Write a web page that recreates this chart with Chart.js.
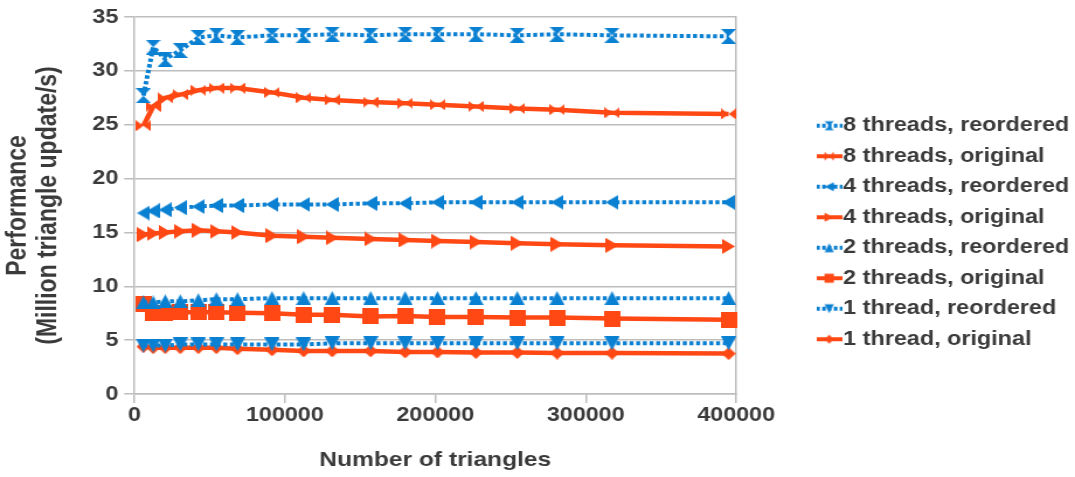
<!DOCTYPE html>
<html>
<head>
    <title>Performance vs number of triangles</title>
    <script src="https://cdn.jsdelivr.net/npm/chart.js"></script>
    <style>
        body { margin: 0; background: #fff; }
    </style>
</head>
<body>
    <!-- the original picture is stretched sideways: draw 920 wide, show 1075 wide -->
    <canvas id="perfChart" width="920" height="477" style="width:1075px;height:477px;display:block"></canvas>
    <script>
        const triangles = [6000, 12500, 20500, 30500, 42500, 54500, 68500, 91500, 112500, 131500,
                           157000, 180000, 201500, 227000, 254500, 281000, 317500, 395000];

        const seriesLabels = ['8 threads, reordered', '8 threads, original', '4 threads, reordered', '4 threads, original',
                              '2 threads, reordered', '2 threads, original', '1 thread, reordered', '1 thread, original'];

        const t8Reordered = [27.7, 32.2, 31.1, 31.9, 33.1, 33.3, 33.1, 33.3, 33.3, 33.4, 33.3, 33.4, 33.4, 33.4, 33.3, 33.4, 33.3, 33.2];
        const t8Original  = [24.9, 26.7, 27.5, 27.8, 28.2, 28.4, 28.4, 28.0, 27.5, 27.3, 27.1, 27.0, 26.85, 26.7, 26.5, 26.4, 26.1, 26.0];
        const t4Reordered = [16.8, 17.0, 17.1, 17.3, 17.4, 17.5, 17.5, 17.6, 17.6, 17.6, 17.7, 17.7, 17.8, 17.8, 17.8, 17.8, 17.8, 17.8];
        const t4Original  = [14.8, 14.9, 15.0, 15.1, 15.2, 15.1, 15.0, 14.7, 14.6, 14.5, 14.4, 14.3, 14.2, 14.1, 14.0, 13.9, 13.8, 13.7];
        const t2Reordered = [8.5, 8.5, 8.6, 8.6, 8.7, 8.8, 8.8, 8.9, 8.9, 8.9, 8.9, 8.9, 8.9, 8.9, 8.9, 8.9, 8.9, 8.9];
        const t2Original  = [8.4, 7.5, 7.5, 7.6, 7.6, 7.6, 7.55, 7.5, 7.35, 7.35, 7.2, 7.25, 7.15, 7.15, 7.1, 7.1, 7.0, 6.9];
        const t1Reordered = [4.5, 4.5, 4.5, 4.6, 4.6, 4.6, 4.6, 4.6, 4.6, 4.7, 4.7, 4.7, 4.7, 4.7, 4.7, 4.7, 4.7, 4.7];
        const t1Original  = [4.4, 4.3, 4.3, 4.3, 4.3, 4.3, 4.2, 4.1, 4.0, 4.0, 4.0, 3.9, 3.9, 3.85, 3.85, 3.8, 3.8, 3.75];

        const BLUE = '#0a80d2';
        const RED = '#ff4814';
        const GRID = '#bdbdbd';
        const TEXT = '#3a3a3a';

        Chart.defaults.font.family = '"Liberation Sans", Arial, sans-serif';
        Chart.defaults.font.weight = 'bold';
        Chart.defaults.color = TEXT;

        // marker outlines, drawn into small canvases used as pointStyle
        const drawShape = (g, kind, w, h) => {
            g.beginPath();
            if (kind === 'hourglass') {
                g.moveTo(0, 0); g.lineTo(w, 0); g.lineTo(w / 2, h / 2); g.lineTo(w, h); g.lineTo(0, h); g.lineTo(w / 2, h / 2);
            } else if (kind === 'bowtie') {
                g.moveTo(0, 0); g.lineTo(w / 2, h / 2); g.lineTo(w, 0); g.lineTo(w, h); g.lineTo(w / 2, h / 2); g.lineTo(0, h);
            } else if (kind === 'left') {
                g.moveTo(0, h / 2); g.lineTo(w, 0); g.lineTo(w, h);
            } else if (kind === 'right') {
                g.moveTo(w, h / 2); g.lineTo(0, 0); g.lineTo(0, h);
            } else if (kind === 'up') {
                g.moveTo(w / 2, 0); g.lineTo(w, h); g.lineTo(0, h);
            } else if (kind === 'down') {
                g.moveTo(0, 0); g.lineTo(w, 0); g.lineTo(w / 2, h);
            } else if (kind === 'square') {
                g.rect(0, 0, w, h);
            } else if (kind === 'diamond') {
                g.moveTo(w / 2, 0); g.lineTo(w, h / 2); g.lineTo(w / 2, h); g.lineTo(0, h / 2);
            }
            g.closePath();
            g.fill();
        };

        const makeMarker = (kind, w, h, color) => {
            const c = document.createElement('canvas');
            c.width = w;
            c.height = h;
            const g = c.getContext('2d');
            g.fillStyle = color;
            drawShape(g, kind, w, h);
            return c;
        };

        const makeLegendIcon = (kind, color, dotted) => {
            const c = document.createElement('canvas');
            c.width = 22;
            c.height = 14;
            const g = c.getContext('2d');
            g.strokeStyle = color;
            g.fillStyle = color;
            g.lineWidth = 4;
            if (dotted) g.setLineDash([3, 2]);
            g.beginPath();
            g.moveTo(0, 7);
            g.lineTo(22, 7);
            g.stroke();
            g.translate(7, 2.5);
            drawShape(g, kind, 8, 9);
            return c;
        };

        const series = [
            { values: t8Reordered, color: BLUE, dotted: true,  kind: 'hourglass', w: 13, h: 15 },
            { values: t8Original,  color: RED,  dotted: false, kind: 'bowtie',    w: 13, h: 11 },
            { values: t4Reordered, color: BLUE, dotted: true,  kind: 'left',      w: 11, h: 15 },
            { values: t4Original,  color: RED,  dotted: false, kind: 'right',     w: 11, h: 15 },
            { values: t2Reordered, color: BLUE, dotted: true,  kind: 'up',        w: 13, h: 14 },
            { values: t2Original,  color: RED,  dotted: false, kind: 'square',    w: 14, h: 16 },
            { values: t1Reordered, color: BLUE, dotted: true,  kind: 'down',      w: 13, h: 14 },
            { values: t1Original,  color: RED,  dotted: false, kind: 'diamond',   w: 12, h: 13 }
        ];

        const legendIcons = series.map(s => makeLegendIcon(s.kind, s.color, s.dotted));

        const datasets = series.map((s, i) => ({
            label: seriesLabels[i],
            data: triangles.map((x, j) => ({ x: x, y: s.values[j] })),
            borderColor: s.color,
            backgroundColor: s.color,
            borderWidth: s.dotted ? 4 : 4.5,
            borderDash: s.dotted ? [3.4, 2.3] : [],
            pointStyle: makeMarker(s.kind, s.w, s.h, s.color),
            pointRadius: 7,
            pointHoverRadius: 7,
            tension: 0,
            clip: false
        }));

        const PAD_RIGHT = -5;   // legend text runs almost to the right edge

        const ctx = document.getElementById('perfChart').getContext('2d');
        new Chart(ctx, {
            type: 'line',
            data: { datasets: datasets },
            options: {
                responsive: false,
                devicePixelRatio: 1,
                animation: false,
                events: [],
                layout: { padding: { top: 0, right: PAD_RIGHT, bottom: 12, left: 0 } },
                scales: {
                    x: {
                        type: 'linear',
                        min: 0,
                        max: 400000,
                        ticks: {
                            stepSize: 100000,
                            padding: 0,
                            maxRotation: 0,
                            font: { size: 20 },
                            callback: v => String(v)
                        },
                        grid: { drawOnChartArea: false, tickLength: 9, color: GRID, lineWidth: 1.5 },
                        border: { color: GRID, width: 1.5 },
                        title: {
                            display: true,
                            text: 'Number of triangles',
                            font: { size: 21, lineHeight: 1 },
                            padding: { top: 0, bottom: -6 }
                        },
                        afterFit: scale => { scale.height = 71; }
                    },
                    y: {
                        min: 0,
                        max: 35,
                        ticks: { stepSize: 5, padding: 5, font: { size: 20 } },
                        grid: { color: GRID, lineWidth: 1.5, tickLength: 8.7 },
                        border: { color: GRID, width: 1.5 },
                        title: {
                            display: true,
                            text: ['Performance', '(Million triangle update/s)'],
                            font: { size: 23, lineHeight: 1.15 },
                            padding: { top: 2, bottom: 0 }
                        },
                        afterFit: scale => { scale.width = 115; }
                    },
                    // right frame of the plot, also keeps the gap before the legend
                    frame: {
                        type: 'linear',
                        position: 'right',
                        min: 0,
                        max: 35,
                        ticks: { display: false },
                        grid: { display: false },
                        border: { color: GRID, width: 1.5 },
                        afterFit: scale => { scale.width = 920 - PAD_RIGHT - 630 - scale.chart.legend.width; }
                    }
                },
                plugins: {
                    title: {
                        display: true,
                        text: '',
                        fullSize: false,
                        padding: 0,
                        font: { size: 16, lineHeight: 1 }
                    },
                    tooltip: { enabled: false },
                    legend: {
                        position: 'right',
                        align: 'center',
                        maxWidth: 300,
                        labels: {
                            usePointStyle: true,
                            pointStyleWidth: 4,
                            padding: 10.5,
                            color: TEXT,
                            font: { size: 20 },
                            generateLabels: chart => Chart.defaults.plugins.legend.labels.generateLabels(chart)
                                .map((item, i) => Object.assign(item, { pointStyle: legendIcons[i], rotation: 0 }))
                        }
                    }
                }
            }
        });
    </script>
</body>
</html>
